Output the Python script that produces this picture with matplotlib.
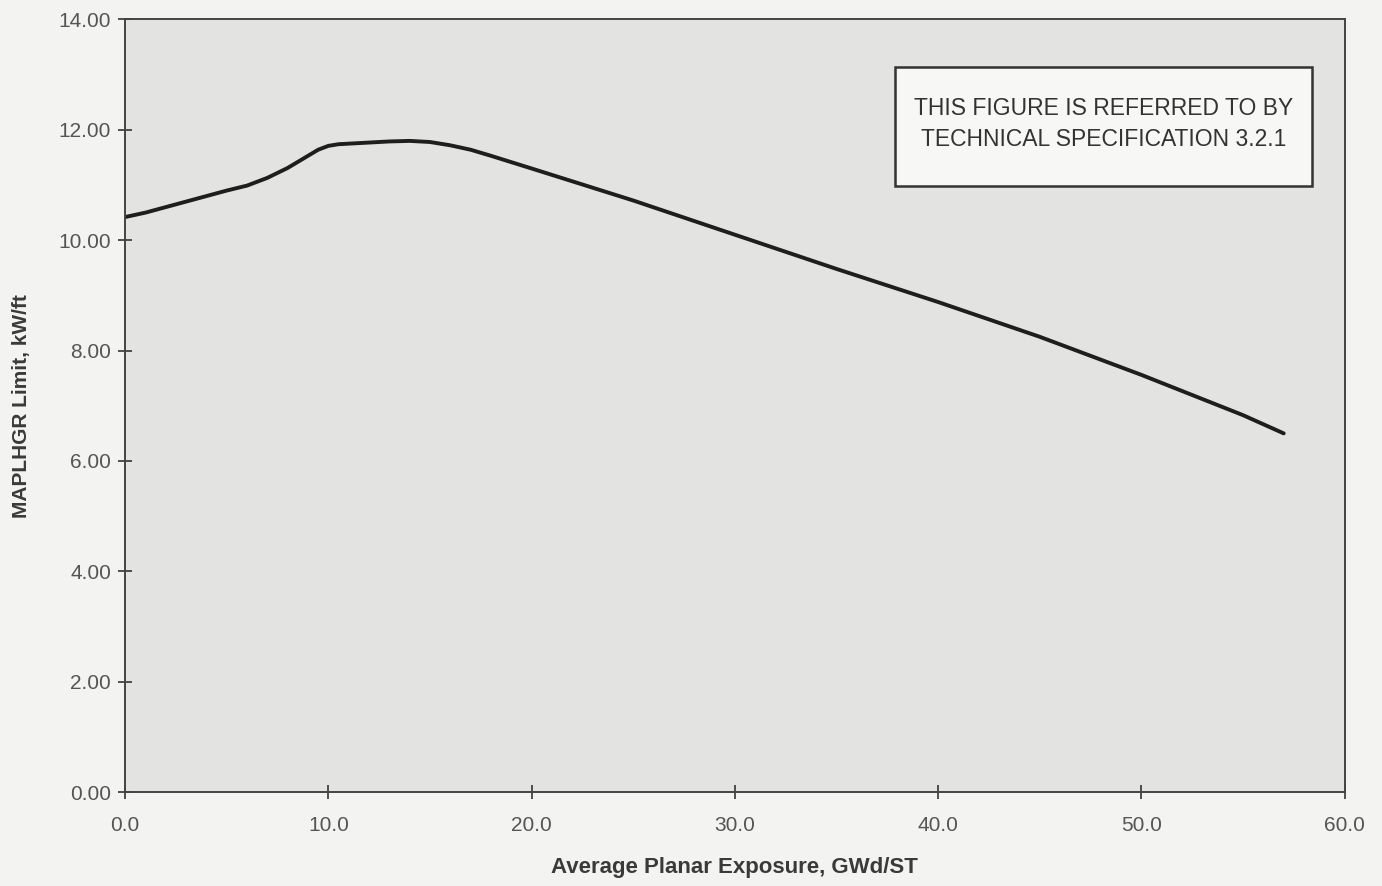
import matplotlib
matplotlib.use("Agg")
import matplotlib.pyplot as plt
from matplotlib.patches import Rectangle

exposure = [0, 1, 2, 3, 4, 5, 6, 7, 8, 9, 9.5, 10, 10.5, 11, 12, 13, 14, 15, 16, 17, 18, 20, 25, 30, 35, 40, 45, 50, 55, 57]
maplhgr = [10.42, 10.5, 10.6, 10.7, 10.8, 10.9, 10.99, 11.13, 11.31, 11.53, 11.64, 11.71, 11.74, 11.75, 11.77, 11.79, 11.8,
           11.78, 11.72, 11.64, 11.53, 11.3, 10.72, 10.1, 9.48, 8.88, 8.25, 7.56, 6.83, 6.5]
xticks = [0, 10, 20, 30, 40, 50, 60]
yticks = [0, 2, 4, 6, 8, 10, 12, 14]
note_lines = ["THIS FIGURE IS REFERRED TO BY", "TECHNICAL SPECIFICATION 3.2.1"]

plt.rcParams['font.family'] = ['Liberation Sans', 'DejaVu Sans']

fig = plt.figure(figsize=(13.82, 8.86), dpi=100)
fig.patch.set_facecolor('#f3f3f1')
ax = fig.add_axes([0.0905, 0.106, 0.8825, 0.872])
ax.set_facecolor('#e3e3e1')

ax.plot(exposure, maplhgr, color='#1e1e1e', lw=2.8, solid_capstyle='round', solid_joinstyle='round')

ax.set_xlim(0, 60)
ax.set_ylim(0, 14)
ax.set_xticks(xticks)
ax.set_xticklabels([f"{v:.1f}" for v in xticks])
ax.set_yticks(yticks)
ax.set_yticklabels([f"{v:.2f}" for v in yticks])
ax.tick_params(direction='inout', length=10, width=1.2, colors='#333333',
               labelcolor='#555555', labelsize=15, pad=5)
ax.tick_params(axis='x', pad=12)
for s in ax.spines.values():
    s.set_color('#444444')
    s.set_linewidth(1.4)

ax.set_xlabel("Average Planar Exposure, GWd/ST", fontsize=16, fontweight='bold',
              color='#3a3a3a', labelpad=16)
ax.set_ylabel("MAPLHGR Limit, kW/ft", fontsize=15, fontweight='bold',
              color='#3a3a3a', labelpad=20)

ax.add_patch(Rectangle((0.631, 0.784), 0.342, 0.155, transform=ax.transAxes,
                       facecolor='#f7f7f5', edgecolor='#333333', linewidth=1.8, zorder=3))
ax.text(0.802, 0.865, "\n".join(note_lines), transform=ax.transAxes,
        ha='center', va='center', fontsize=16.5, color='#333333', linespacing=1.45, zorder=4)

fig.savefig("out.png", dpi=100, facecolor=fig.get_facecolor())
